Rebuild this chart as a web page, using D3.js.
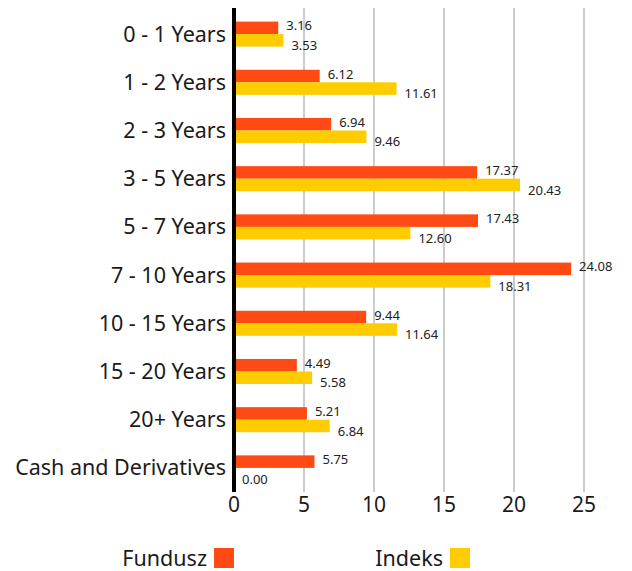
<!DOCTYPE html>
<html lang="en">
<head>
<meta charset="utf-8">
<title>Duration breakdown</title>
<style>
  body { margin: 0; background: #fff; }
  svg { font-family: "Noto Sans", sans-serif; }
  .grid line { stroke: #cccccc; stroke-width: 2px; }
  .cat { font-size: 21.5px; fill: #1a1a1a; }
  .tick-lab { font-size: 21px; fill: #1a1a1a; }
  .val { font-size: 13px; fill: #222; }
  .leg { font-size: 21.5px; fill: #1a1a1a; }
</style>
</head>
<body>
<svg width="632" height="571"></svg>
<script src="https://cdn.jsdelivr.net/npm/d3@7"></script>
<script>
var categories = ["0 - 1 Years", "1 - 2 Years", "2 - 3 Years", "3 - 5 Years", "5 - 7 Years",
                  "7 - 10 Years", "10 - 15 Years", "15 - 20 Years", "20+ Years", "Cash and Derivatives"];
var fundusz = [3.16, 6.12, 6.94, 17.37, 17.43, 24.08, 9.44, 4.49, 5.21, 5.75];
var indeks = [3.53, 11.61, 9.46, 20.43, 12.60, 18.31, 11.64, 5.58, 6.84, 0.00];
var seriesNames = ["Fundusz", "Indeks"];
var xTicks = [0, 5, 10, 15, 20, 25];

var colors = ["#ff4a14", "#ffcc00"];
var svg = d3.select("svg");

var x = d3.scaleLinear().domain([0, 25]).range([234, 584]);
var y = d3.scaleBand().domain(categories).range([10, 492])
          .paddingInner(0.48).paddingOuter(0.24);
var barH = y.bandwidth() / 2;

// gridlines
svg.append("g").attr("class", "grid")
   .selectAll("line").data(xTicks.slice(1)).enter()
   .append("line")
   .attr("x1", function(d) { return x(d); })
   .attr("x2", function(d) { return x(d); })
   .attr("y1", 8).attr("y2", 492);

// bars
var data = [fundusz, indeks];
data.forEach(function(vals, s) {
  svg.append("g").selectAll("rect").data(vals).enter()
     .append("rect")
     .attr("x", x(0))
     .attr("y", function(d, i) { return y(categories[i]) + s * barH; })
     .attr("width", function(d) { return x(d) - x(0); })
     .attr("height", barH)
     .attr("fill", colors[s]);

  svg.append("g").selectAll("text").data(vals).enter()
     .append("text")
     .attr("class", "val")
     .attr("x", function(d) { return x(d) + 8; })
     .attr("y", function(d, i) { return y(categories[i]) + s * barH + barH / 2 + (s == 0 ? -2 : 5); })
     .attr("dy", "0.35em")
     .text(function(d) { return d.toFixed(2); });
});

// zero axis line
svg.append("line")
   .attr("x1", x(0)).attr("x2", x(0))
   .attr("y1", 8).attr("y2", 492)
   .attr("stroke", "#000").attr("stroke-width", 4);

// category labels
svg.append("g").selectAll("text").data(categories).enter()
   .append("text")
   .attr("class", "cat")
   .attr("x", 226)
   .attr("y", function(d) { return y(d) + y.bandwidth() / 2; })
   .attr("dy", "0.35em")
   .attr("text-anchor", "end")
   .text(function(d) { return d; });

// x tick labels
svg.append("g").selectAll("text").data(xTicks).enter()
   .append("text")
   .attr("class", "tick-lab")
   .attr("x", function(d) { return x(d); })
   .attr("y", 505)
   .attr("dy", "0.35em")
   .attr("text-anchor", "middle")
   .text(function(d) { return d; });

// legend
var legX = [207, 443];
seriesNames.forEach(function(name, s) {
  svg.append("text")
     .attr("class", "leg")
     .attr("x", legX[s])
     .attr("y", 566)
     .attr("text-anchor", "end")
     .text(name);
  svg.append("rect")
     .attr("x", legX[s] + 7).attr("y", 548)
     .attr("width", 20).attr("height", 20)
     .attr("fill", colors[s]);
});
</script>
</body>
</html>
